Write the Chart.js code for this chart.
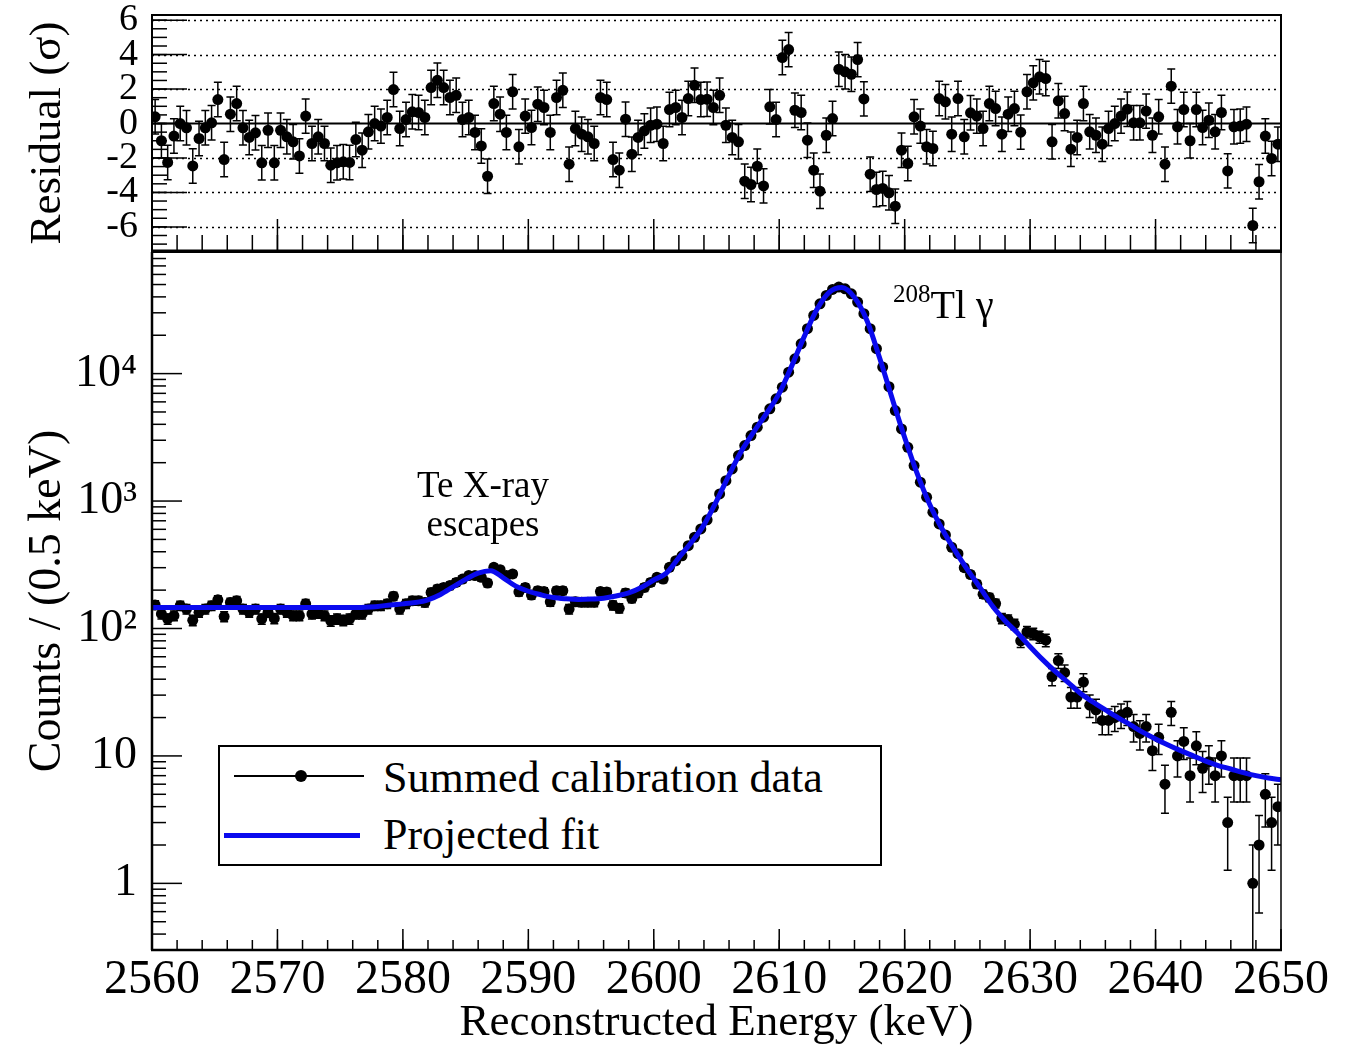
<!DOCTYPE html>
<html>
<head>
<meta charset="utf-8">
<script src="https://cdn.jsdelivr.net/npm/chart.js@4"></script>
<style>
  html, body { margin: 0; padding: 0; background: #fff; }
  #wrap { position: relative; width: 1345px; height: 1064px; font-family: "Liberation Serif", "Times New Roman", serif; color: #000; }
  canvas { position: absolute; left: 0; }
  #top { top: 0; }
  #bottom { top: 250px; }
  .note { position: absolute; white-space: nowrap; line-height: 1; }
  #legend { position: absolute; left: 218px; top: 745px; width: 664px; height: 121px; border: 2px solid #000; box-sizing: border-box; background: #fff; }
  #legend div { position: absolute; }
</style>
</head>
<body>
<div id="wrap">
  <canvas id="top" width="1345" height="252"></canvas>
  <canvas id="bottom" width="1345" height="814"></canvas>

  <div class="note" style="left:383px; top:466px; width:200px; text-align:center; font-size:37px;">Te X-ray</div>
  <div class="note" style="left:383px; top:505px; width:200px; text-align:center; font-size:37px;">escapes</div>
  <div class="note" style="left:893px; top:285px; font-size:40px;"><span style="font-size:25px; position:relative; top:-16px;">208</span>Tl γ</div>

  <div id="legend">
    <div style="left:14px; top:28px; width:130px; height:1.5px; background:#000;"></div>
    <div style="left:75px; top:23px; width:12px; height:12px; border-radius:50%; background:#000;"></div>
    <div style="left:163px; top:9px; font-size:44px; line-height:44px; white-space:nowrap;">Summed calibration data</div>
    <div style="left:4px; top:86px; width:136px; height:5px; background:#0a0aee;"></div>
    <div style="left:163px; top:66px; font-size:44px; line-height:44px; white-space:nowrap;">Projected fit</div>
  </div>
</div>
<script>
// histogram binning (0.5 keV bins from 2560 to 2650 keV)
const E_MIN = 2560;
const E_MAX = 2650;
const BIN = 0.5;

// residual (sigma) per bin
const residual = [
  0.39, -1.0, -2.26, -0.73, 0.0, -0.25, -2.46, -0.87, -0.25, 0.04,
  1.39, -2.09, 0.54, 1.16, -0.25, -0.81, -0.54, -2.28, -0.39, -2.28,
  -0.39, -0.77, -1.06, -1.88, 0.43, -1.16, -0.77, -1.16, -2.42, -2.28,
  -2.22, -2.26, -0.93, -1.55, -0.48, 0.0, -0.15, 0.35, 1.97, -0.29,
  0.23, 0.68, 0.64, 0.35, 2.09, 2.51, 2.09, 1.51, 1.64, 0.23,
  0.35, -0.52, -1.3, -3.06, 1.16, 0.54, -0.52, 1.84, -1.35, 0.43,
  -0.23, 1.12, 0.93, -0.52, 1.51, 1.93, -2.36, -0.29, -0.62, -0.77,
  -1.16, 1.51, 1.39, -2.09, -2.71, 0.25, -1.78, -0.81, -0.43, -0.1,
  -0.04, -1.16, 0.81, 0.93, 0.35, 1.45, 2.22, 1.39, 1.41, 0.93,
  1.64, -0.1, -0.81, -1.06, -3.35, -3.54, -2.48, -3.62, 0.97, 0.23,
  3.83, 4.29, 0.77, 0.64, -0.97, -2.71, -3.93, -0.68, 0.29, 3.15,
  3.0, 2.86, 3.71, 1.43, -2.94, -3.83, -3.77, -4.02, -4.8, -1.55,
  -2.32, 0.39, -0.15, -1.35, -1.45, 1.45, 1.26, -0.62, 1.45, -0.77,
  0.62, 0.43, -0.29, 1.16, 0.87, -0.62, 0.54, 0.87, -0.5, 1.84,
  2.36, 2.71, 2.61, -1.06, 1.32, 0.58, -1.49, -0.81, 1.16, -0.48,
  -0.68, -1.2, -0.29, 0.0, 0.43, 0.83, 0.04, 0.04, 0.72, -0.68,
  0.39, -2.36, 2.17, -0.19, 0.81, -1.0, 0.81, -0.23, 0.19, -0.48,
  0.64, -2.75, -0.19, -0.15, -0.04, -5.92, -3.38, -0.73, -2.03, -1.2
];

// counts per 0.5 keV bin
const counts = [
  153, 130, 119, 126, 151, 142, 116, 134, 142, 151,
  168, 124, 160, 165, 142, 134, 142, 119, 134, 120,
  142, 134, 126, 126, 156, 130, 132, 126, 115, 119,
  116, 119, 130, 130, 142, 151, 151, 156, 179, 142,
  156, 165, 165, 160, 192, 204, 210, 217, 230, 244,
  260, 260, 252, 227, 302, 289, 260, 268, 194, 210,
  183, 198, 195, 162, 198, 198, 142, 162, 161, 161,
  161, 195, 193, 152, 144, 190, 172, 190, 210, 230,
  252, 244, 302, 340, 372, 446, 520, 604, 712, 894,
  1137, 1445, 1786, 2274, 2724, 3264, 3800, 4550, 5290, 6340,
  7830, 10270, 13070, 17140, 22500, 28600, 35300, 41100, 45800, 47800,
  46300, 42300, 36400, 29500, 22500, 15700, 11250, 7900, 5130, 3680,
  2640, 1900, 1405, 1072, 817, 661, 542, 434, 386, 300,
  265, 223, 186, 175, 157, 120, 117, 108, 80, 94,
  91, 86, 81, 42, 56, 45, 29, 29, 38, 25,
  23, 19, 19, 20, 21, 22, 17, 15, 17, 11,
  14, 6, 22, 10, 13, 7, 12, 8, 9, 7,
  10, 3, 7, 7, 7, 1, 2, 5, 3, 4
];

// projected fit, sampled every 1 keV from 2560 to 2650
const fitCounts = [
  146, 146, 146, 146, 146, 146, 146, 146, 146, 146,
  146, 146, 146, 146, 146, 146, 146, 147, 149, 153,
  156, 160, 168, 185, 212, 243, 272, 284, 250, 215,
  196, 184, 175, 171, 169, 170, 173, 180, 190, 210,
  240, 272, 360, 475, 650, 1000, 1600, 2480, 3520, 4900,
  7000, 11500, 19600, 31800, 43500, 47300, 39500, 26000, 13300, 6400,
  3150, 1640, 940, 600, 410, 290, 210, 150, 115, 92,
  72, 57, 46, 38, 31, 26.5, 23, 20, 17.5, 15.3,
  13.6, 12.2, 11, 10, 9.1, 8.4, 7.9, 7.4, 7.0, 6.7,
  6.5
];

const energyTicks = [2560, 2570, 2580, 2590, 2600, 2610, 2620, 2630, 2640, 2650];
const residualTicks = [-6, -4, -2, 0, 2, 4, 6];
const countTicks = [1, 10, 100, 1000, 10000];
const countTickLabels = ['1', '10', '10²', '10³', '10⁴'];

const FONT = 'Liberation Serif';
const BLUE = '#0a0aee';

const binCenters = counts.map((_, i) => E_MIN + BIN * (i + 0.5));
const fitEnergy = fitCounts.map((_, i) => E_MIN + i);

function steps(from, to, step) {
  const out = [];
  for (let v = from; v <= to + 1e-9; v += step) out.push(+v.toFixed(3));
  return out;
}

function logMinors(min, max) {
  const out = [];
  for (let k = -1; k <= 4; k++) {
    for (let m = 2; m <= 9; m++) {
      const v = m * Math.pow(10, k);
      if (v > min && v < max) out.push(v);
    }
  }
  return out;
}

// keep the plot frame where we put it: no extra room for overhanging labels
function pinBox(size) {
  return s => {
    if (s.isHorizontal()) s.height = size; else s.width = size;
    s.paddingTop = 0;
    s.paddingBottom = 0;
    s.paddingLeft = 0;
    s.paddingRight = 0;
  };
}

// frame, inner ticks, guide lines and error bars
const panelDecor = {
  id: 'panelDecor',
  beforeDatasetsDraw(chart, args, opts) {
    const { ctx, chartArea: a, scales } = chart;
    ctx.save();
    ctx.strokeStyle = '#000';
    (opts.dotted || []).forEach(v => {
      const py = Math.round(scales.y.getPixelForValue(v)) + 0.5;
      ctx.setLineDash([2, 4]);
      ctx.lineWidth = 1.5;
      ctx.beginPath();
      ctx.moveTo(a.left, py);
      ctx.lineTo(a.right, py);
      ctx.stroke();
    });
    ctx.setLineDash([]);
    if (opts.solid !== undefined) {
      const py = scales.y.getPixelForValue(opts.solid);
      ctx.lineWidth = 2;
      ctx.beginPath();
      ctx.moveTo(a.left, py);
      ctx.lineTo(a.right, py);
      ctx.stroke();
    }
    ctx.beginPath();
    ctx.rect(a.left, a.top, a.right - a.left, a.bottom - a.top);
    ctx.clip();
    ctx.lineWidth = 1.5;
    chart.data.datasets.forEach(ds => {
      if (!ds.errors) return;
      ds.data.forEach((p, i) => {
        const e = ds.errors[i];
        const px = scales.x.getPixelForValue(p.x);
        const hi = scales.y.getPixelForValue(p.y + e);
        const lo = (p.y - e > scales.y.min) ? scales.y.getPixelForValue(p.y - e) : a.bottom + 4;
        ctx.beginPath();
        ctx.moveTo(px, hi);
        ctx.lineTo(px, lo);
        ctx.moveTo(px - 4, hi);
        ctx.lineTo(px + 4, hi);
        ctx.moveTo(px - 4, lo);
        ctx.lineTo(px + 4, lo);
        ctx.stroke();
      });
    });
    ctx.restore();
  },
  afterDraw(chart, args, opts) {
    const { ctx, chartArea: a, scales } = chart;
    ctx.save();
    ctx.strokeStyle = '#000';
    ctx.lineWidth = 1.5;
    const drawX = (vals, len) => vals.forEach(v => {
      const px = scales.x.getPixelForValue(v);
      ctx.beginPath();
      ctx.moveTo(px, a.bottom);
      ctx.lineTo(px, a.bottom - len);
      ctx.stroke();
    });
    const drawY = (vals, len) => vals.forEach(v => {
      const py = scales.y.getPixelForValue(v);
      ctx.beginPath();
      ctx.moveTo(a.left, py);
      ctx.lineTo(a.left + len, py);
      ctx.stroke();
    });
    drawX(opts.xMinor, opts.xMinorLen);
    drawX(opts.xMajor, opts.xMajorLen);
    drawY(opts.yMinor, opts.yMinorLen);
    drawY(opts.yMajor, opts.yMajorLen);

    const line = (w, x1, y1, x2, y2) => {
      ctx.lineWidth = w;
      ctx.beginPath();
      ctx.moveTo(x1, y1);
      ctx.lineTo(x2, y2);
      ctx.stroke();
    };
    line(opts.frame.top, a.left - 1, a.top, a.right + 1, a.top);
    line(opts.frame.right, a.right, a.top, a.right, a.bottom);
    line(opts.frame.bottom, a.left - 1, a.bottom, a.right + 1, a.bottom);
    line(opts.frame.left, a.left, a.top, a.left, a.bottom);
    ctx.restore();
  }
};

// upper panel: residuals
new Chart(document.getElementById('top'), {
  type: 'line',
  data: {
    datasets: [{
      label: 'Residual',
      data: residual.map((r, i) => ({ x: binCenters[i], y: r })),
      errors: residual.map(() => 1),
      showLine: false,
      pointRadius: 5.5,
      pointBackgroundColor: '#000',
      pointBorderColor: '#000',
      pointBorderWidth: 0
    }]
  },
  options: {
    responsive: false,
    animation: false,
    devicePixelRatio: 1,
    layout: { autoPadding: false, padding: { top: 15, right: 64, bottom: 1, left: 0 } },
    plugins: {
      legend: { display: false },
      tooltip: { enabled: false },
      panelDecor: {
        dotted: [-6, -4, -2, 2, 4, 6],
        solid: 0,
        xMajor: energyTicks, xMinor: steps(E_MIN, E_MAX, 2), xMajorLen: 32, xMinorLen: 16,
        yMajor: residualTicks, yMinor: steps(-7, 6, 0.5), yMajorLen: 35, yMinorLen: 15,
        frame: { top: 2, right: 2, bottom: 3, left: 2 }
      }
    },
    scales: {
      x: { type: 'linear', min: E_MIN, max: E_MAX, display: false, afterFit: pinBox(0) },
      y: {
        type: 'linear', min: -7.4, max: 6.3,
        afterFit: pinBox(152),
        afterBuildTicks: s => { s.ticks = residualTicks.map(v => ({ value: v })); },
        grid: { display: false },
        border: { display: false },
        ticks: { color: '#000', padding: 6, autoSkip: false, font: { family: FONT, size: 38 } },
        title: { display: true, text: 'Residual (σ)', color: '#000', font: { family: FONT, size: 45 }, padding: { top: 21, bottom: 0 } }
      }
    }
  },
  plugins: [panelDecor]
});

// lower panel: counts and fit
new Chart(document.getElementById('bottom'), {
  type: 'line',
  data: {
    datasets: [
      {
        label: 'Projected fit',
        data: fitCounts.map((c, i) => ({ x: fitEnergy[i], y: c })),
        borderColor: BLUE,
        borderWidth: 5,
        pointRadius: 0,
        cubicInterpolationMode: 'monotone',
        fill: false,
        order: 0
      },
      {
        label: 'Summed calibration data',
        data: counts.map((c, i) => ({ x: binCenters[i], y: c })),
        errors: counts.map(c => Math.sqrt(c)),
        showLine: false,
        pointRadius: 5.5,
        pointBackgroundColor: '#000',
        pointBorderColor: '#000',
        pointBorderWidth: 0,
        order: 1
      }
    ]
  },
  options: {
    responsive: false,
    animation: false,
    devicePixelRatio: 1,
    layout: { autoPadding: false, padding: { top: 2, right: 64, bottom: 0, left: 0 } },
    plugins: {
      legend: { display: false },
      tooltip: { enabled: false },
      panelDecor: {
        xMajor: energyTicks, xMinor: steps(E_MIN, E_MAX, 2), xMajorLen: 21, xMinorLen: 10,
        yMajor: countTicks, yMinor: logMinors(0.3, 9e4), yMajorLen: 30, yMinorLen: 14,
        frame: { top: 2, right: 1.5, bottom: 2.5, left: 2.5 }
      }
    },
    scales: {
      x: {
        type: 'linear', min: E_MIN, max: E_MAX,
        afterFit: pinBox(114),
        afterBuildTicks: s => { s.ticks = energyTicks.map(v => ({ value: v })); },
        grid: { display: false },
        border: { display: false },
        ticks: { color: '#000', padding: -6, maxRotation: 0, autoSkip: false, font: { family: FONT, size: 48 }, callback: v => String(v) },
        title: { display: true, text: 'Reconstructed Energy (keV)', color: '#000', font: { family: FONT, size: 45 }, padding: { top: 0, bottom: 14 } }
      },
      y: {
        type: 'logarithmic', min: 0.3, max: 9e4,
        afterFit: pinBox(152),
        afterBuildTicks: s => { s.ticks = countTicks.map(v => ({ value: v })); },
        grid: { display: false },
        border: { display: false },
        ticks: {
          color: '#000', padding: 7, autoSkip: false, font: { family: FONT, size: 46 },
          callback: v => countTickLabels[countTicks.indexOf(v)] ?? ''
        },
        title: { display: true, text: 'Counts / (0.5 keV)', color: '#000', font: { family: FONT, size: 46 }, padding: { top: 20, bottom: 0 } }
      }
    }
  },
  plugins: [panelDecor]
});
</script>
</body>
</html>
